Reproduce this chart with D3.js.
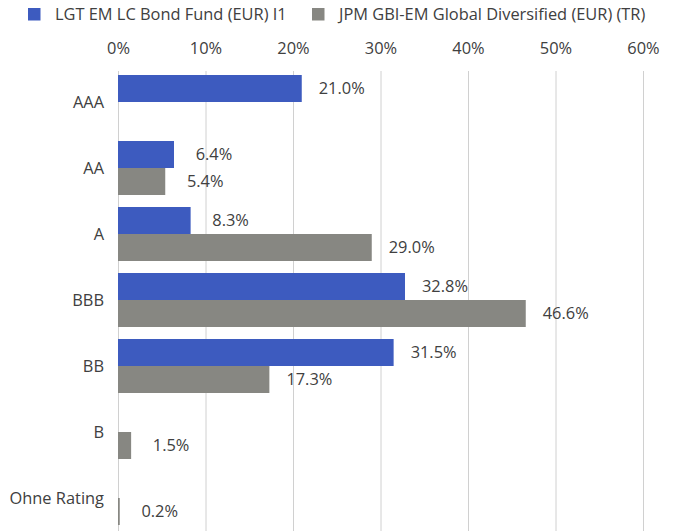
<!DOCTYPE html>
<html>
<head>
<meta charset="utf-8">
<script src="https://cdn.jsdelivr.net/npm/d3@7"></script>
<style>
  body { margin: 0; background: #fff; }
  svg text { font-family: "Open Sans", "Noto Sans", sans-serif; fill: #404040; }
</style>
</head>
<body>
<svg id="chart" width="676" height="531"></svg>
<script>
const categories = ["AAA", "AA", "A", "BBB", "BB", "B", "Ohne Rating"];
const seriesNames = ["LGT EM LC Bond Fund (EUR) I1", "JPM GBI-EM Global Diversified (EUR) (TR)"];
const lgtValues = [21.0, 6.4, 8.3, 32.8, 31.5, null, null];
const jpmValues = [null, 5.4, 29.0, 46.6, 17.3, 1.5, 0.2];
const tickValues = [0, 10, 20, 30, 40, 50, 60];
const colors = ["#3d5bbf", "#878782"];

const fontSize = "16.4px";
const svg = d3.select("#chart");
const margin = { top: 69, left: 118, right: 33, bottom: 0 };
const width = 676 - margin.left - margin.right;
const height = 531 - margin.top - margin.bottom;

const x = d3.scaleLinear().domain([0, 60]).range([0, width]);
const y = d3.scaleBand().domain(categories).range([0, height]).paddingInner(12 / 66).paddingOuter(6 / 66);
const ySub = d3.scaleBand().domain([0, 1]).range([0, y.bandwidth()]);

const g = svg.append("g").attr("transform", `translate(${margin.left},${margin.top})`);

// grid + top axis
const axis = g.append("g")
  .call(d3.axisTop(x).tickValues(tickValues).tickFormat(d => d + "%").tickSize(-height - 4).tickPadding(13))
  .attr("transform", "translate(0,-2)");
axis.select(".domain").remove();
axis.selectAll("line").attr("stroke", "#d0d0d0").attr("stroke-width", 1);
axis.selectAll("text").style("font-size", fontSize).attr("fill", "#404040");
axis.selectAll(".tick line").attr("y1", 4);

const series = [lgtValues, jpmValues];

series.forEach((vals, si) => {
  const rows = categories.map((c, i) => ({ cat: c, v: vals[i] })).filter(d => d.v != null);
  g.selectAll(".bar" + si).data(rows).enter().append("rect")
    .attr("x", x(0))
    .attr("y", d => y(d.cat) + ySub(si))
    .attr("width", d => x(d.v) - x(0))
    .attr("height", ySub.bandwidth())
    .attr("fill", colors[si]);
  g.selectAll(".lbl" + si).data(rows).enter().append("text")
    .attr("x", d => x(d.v) + 40)
    .attr("y", d => y(d.cat) + ySub(si) + ySub.bandwidth() / 2)
    .attr("dy", "0.36em")
    .attr("text-anchor", "middle")
    .style("font-size", fontSize)
    .text(d => d.v.toFixed(1) + "%");
});

// category labels
g.selectAll(".cat").data(categories).enter().append("text")
  .attr("x", -14)
  .attr("y", d => y(d) + y.bandwidth() / 2)
  .attr("dy", "0.36em")
  .attr("text-anchor", "end")
  .style("font-size", fontSize)
  .text(d => d);

// legend
const legendX = [28, 312];
seriesNames.forEach((name, i) => {
  const lg = svg.append("g").attr("transform", `translate(${legendX[i]},8)`);
  lg.append("rect").attr("width", 12.5).attr("height", 12.5).attr("fill", colors[i]);
  lg.append("text").attr("x", 27).attr("y", 6.5).attr("dy", "0.36em").style("font-size", fontSize).text(name);
});
</script>
</body>
</html>
